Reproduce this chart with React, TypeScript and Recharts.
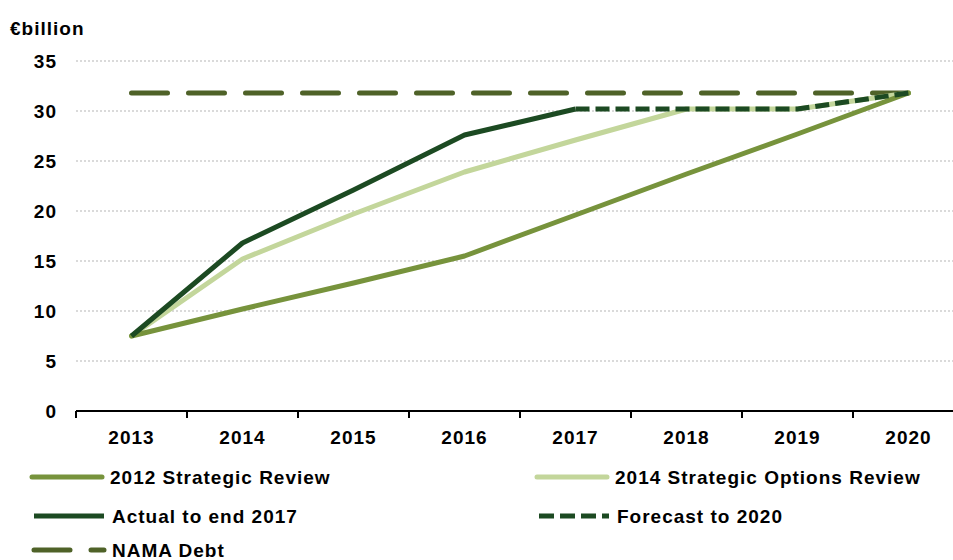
import React from 'react';
import {
  ComposedChart,
  Line,
  XAxis,
  YAxis,
  CartesianGrid,
} from 'recharts';

const years = ['2013', '2014', '2015', '2016', '2017', '2018', '2019', '2020'];
const review2012 = [7.5, 10.2, 12.8, 15.5, 19.6, 23.7, 27.7, 31.8];
const options2014 = [7.5, 15.2, 19.7, 23.9, 27.1, 30.2, 30.2, 31.8];
const actual = [7.5, 16.8, 22.1, 27.6, 30.2, null, null, null];
const forecast = [null, null, null, null, 30.2, 30.2, 30.2, 31.8];
const namaDebt = [31.8, 31.8, 31.8, 31.8, 31.8, 31.8, 31.8, 31.8];
const yTicks = [0, 5, 10, 15, 20, 25, 30, 35];

const FONT = '"Liberation Sans", Arial, sans-serif';
const C_2012 = '#77933C';
const C_2014 = '#C3D69B';
const C_ACTUAL = '#1C4A22';
const C_NAMA = '#4F6228';

const chartData = years.map((year, i) => ({
  year,
  review2012: review2012[i],
  options2014: options2014[i],
  actual: actual[i],
  forecast: forecast[i],
  namaDebt: namaDebt[i],
}));

// half of a category band: plot is 888px wide over 8 years
const HALF_BAND = 888 / years.length / 2;

const XTick = (props: any) => {
  const { x, y, payload } = props;
  return (
    <g>
      <line x1={x - HALF_BAND} x2={x - HALF_BAND} y1={y} y2={y + 7} stroke="#000" strokeWidth={2} />
      <line x1={x + HALF_BAND} x2={x + HALF_BAND} y1={y} y2={y + 7} stroke="#000" strokeWidth={2} />
      <text
        x={x}
        y={y + 26}
        dy="0.35em"
        textAnchor="middle"
        fontFamily={FONT}
        fontWeight="bold"
        fontSize={19}
        letterSpacing={1}
        fill="#000"
      >
        {payload.value}
      </text>
    </g>
  );
};

const legendItems = [
  { label: '2012 Strategic Review', x: 32, y: 22, color: C_2012, dash: undefined, cap: 'round' },
  { label: '2014 Strategic Options Review', x: 537, y: 22, color: C_2014, dash: undefined, cap: 'round' },
  { label: 'Actual to end 2017', x: 34, y: 61, color: C_ACTUAL, dash: undefined, cap: 'butt' },
  { label: 'Forecast to 2020', x: 539, y: 61, color: C_ACTUAL, dash: '15 6', cap: 'butt' },
  { label: 'NAMA Debt', x: 34, y: 95, color: C_NAMA, dash: '36 21', cap: 'round' },
];

const ChartLegend = () => (
  <svg width={953} height={105} style={{ position: 'absolute', left: 0, top: 455 }}>
    {legendItems.map((item) => (
      <g key={item.label}>
        <line
          x1={item.x}
          x2={item.x + 70}
          y1={item.y}
          y2={item.y}
          stroke={item.color}
          strokeWidth={5}
          strokeLinecap={item.cap as any}
          strokeDasharray={item.dash}
        />
        <text
          x={item.x + 78}
          y={item.y}
          dy="0.35em"
          fontFamily={FONT}
          fontWeight="bold"
          fontSize={19}
          letterSpacing={1}
          fill="#000"
        >
          {item.label}
        </text>
      </g>
    ))}
  </svg>
);

export default function App() {
  return (
    <div
      style={{
        position: 'absolute',
        left: 0,
        top: 0,
        width: 953,
        height: 560,
        overflow: 'hidden',
        background: '#fff',
      }}
    >
      <div
        style={{
          position: 'absolute',
          left: 10,
          top: 19,
          fontFamily: FONT,
          fontWeight: 'bold',
          fontSize: 19,
          lineHeight: '19px',
          letterSpacing: 1,
          color: '#000',
        }}
      >
        €billion
      </div>
      <ComposedChart
        width={975}
        height={460}
        data={chartData}
        margin={{ top: 61, right: 11, left: 0, bottom: 0 }}
      >
        <CartesianGrid vertical={false} stroke="#b5b5b5" strokeDasharray="2 2" />
        <XAxis
          dataKey="year"
          scale="band"
          height={49}
          axisLine={{ stroke: '#000', strokeWidth: 2 }}
          tickLine={false}
          tickSize={0}
          tickMargin={0}
          tick={<XTick />}
          interval={0}
        />
        <YAxis
          width={76}
          domain={[0, 35]}
          ticks={yTicks}
          axisLine={false}
          tickLine={false}
          tickSize={0}
          tickMargin={19}
          tick={{ fontFamily: FONT, fontWeight: 'bold', fontSize: 19, fill: '#000', letterSpacing: 1 }}
        />
        <Line
          dataKey="namaDebt"
          stroke={C_NAMA}
          strokeWidth={5}
          strokeDasharray="36 21"
          strokeLinecap="round"
          dot={false}
          activeDot={false}
          isAnimationActive={false}
        />
        <Line
          dataKey="options2014"
          stroke={C_2014}
          strokeWidth={5}
          strokeLinecap="round"
          strokeLinejoin="round"
          dot={false}
          activeDot={false}
          isAnimationActive={false}
        />
        <Line
          dataKey="review2012"
          stroke={C_2012}
          strokeWidth={5}
          strokeLinecap="round"
          strokeLinejoin="round"
          dot={false}
          activeDot={false}
          isAnimationActive={false}
        />
        <Line
          dataKey="actual"
          stroke={C_ACTUAL}
          strokeWidth={5}
          strokeLinejoin="round"
          dot={false}
          activeDot={false}
          isAnimationActive={false}
        />
        <Line
          dataKey="forecast"
          stroke={C_ACTUAL}
          strokeWidth={5}
          strokeDasharray="14 6"
          dot={false}
          activeDot={false}
          isAnimationActive={false}
        />
      </ComposedChart>
      <ChartLegend />
    </div>
  );
}
